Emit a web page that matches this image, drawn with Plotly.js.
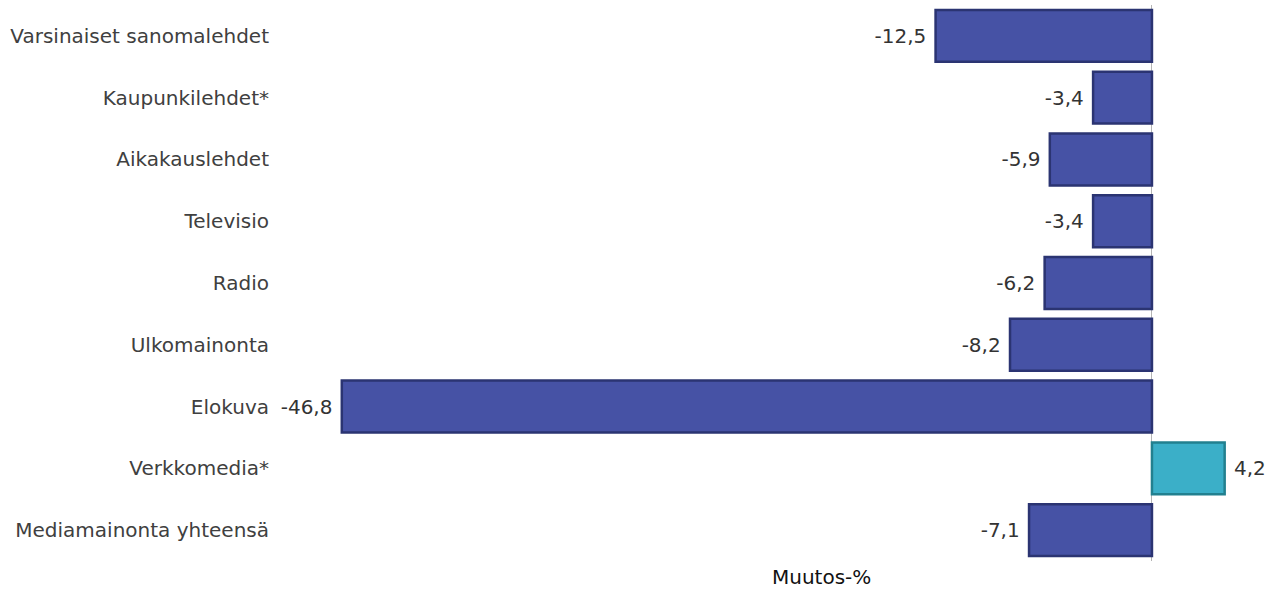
<!DOCTYPE html>
<html><head><meta charset="utf-8">
<script src="https://cdn.plot.ly/plotly-3.0.1.min.js"></script>
<style>html,body{margin:0;padding:0;background:#fff}#chart{width:1274px;height:591px}</style>
</head><body><div id="chart"></div>
<script>
const categories = ["Varsinaiset sanomalehdet","Kaupunkilehdet*","Aikakauslehdet","Televisio","Radio","Ulkomainonta","Elokuva","Verkkomedia*","Mediamainonta yhteensä"];
const changes = [-12.5,-3.4,-5.9,-3.4,-6.2,-8.2,-46.8,4.2,-7.1];
const axisTitle = "Muutos-%";

const fillColors = changes.map(v => v >= 0 ? "#3BAFC8" : "#4652A5");
const lineColors = changes.map(v => v >= 0 ? "#22808F" : "#2B3472");
const templates = changes.map(v => v >= 0 ? "\u00a0%{x:.1f}" : "%{x:.1f}\u00a0");

const trace = {
  type: "bar", orientation: "h",
  y: categories, x: changes,
  marker: {color: fillColors, line: {color: lineColors, width: 2.5}},
  texttemplate: templates, textposition: "outside", cliponaxis: false,
  constraintext: "none",
  textfont: {family: "DejaVu Sans", size: 20, color: "#333333"},
  hoverinfo: "none"
};

const layout = {
  width: 1274, height: 591,
  margin: {l: 280, r: 0, t: 5, b: 30},
  paper_bgcolor: "#fff", plot_bgcolor: "#fff",
  separators: ", ",
  bargap: 0.16,
  showlegend: false,
  font: {family: "DejaVu Sans", size: 20, color: "#404040"},
  xaxis: {range: [-50.37, 7.05], showgrid: false, showticklabels: false, ticks: "",
          zeroline: true, zerolinecolor: "#b4b4b4", zerolinewidth: 1, showline: false, fixedrange: true},
  yaxis: {autorange: "reversed", showgrid: false, ticks: "", ticklabelstandoff: 10,
          tickfont: {family: "DejaVu Sans", size: 20, color: "#404040"}, showline: false, fixedrange: true},
  annotations: [{text: axisTitle, xref: "paper", yref: "paper", x: (821-280)/994, y: (561-577)/556,
                 xanchor: "center", yanchor: "middle", showarrow: false,
                 font: {family: "DejaVu Sans", size: 20, color: "#111111"}}]
};
Plotly.newPlot("chart", [trace], layout, {displayModeBar: false, staticPlot: true});
</script></body></html>
